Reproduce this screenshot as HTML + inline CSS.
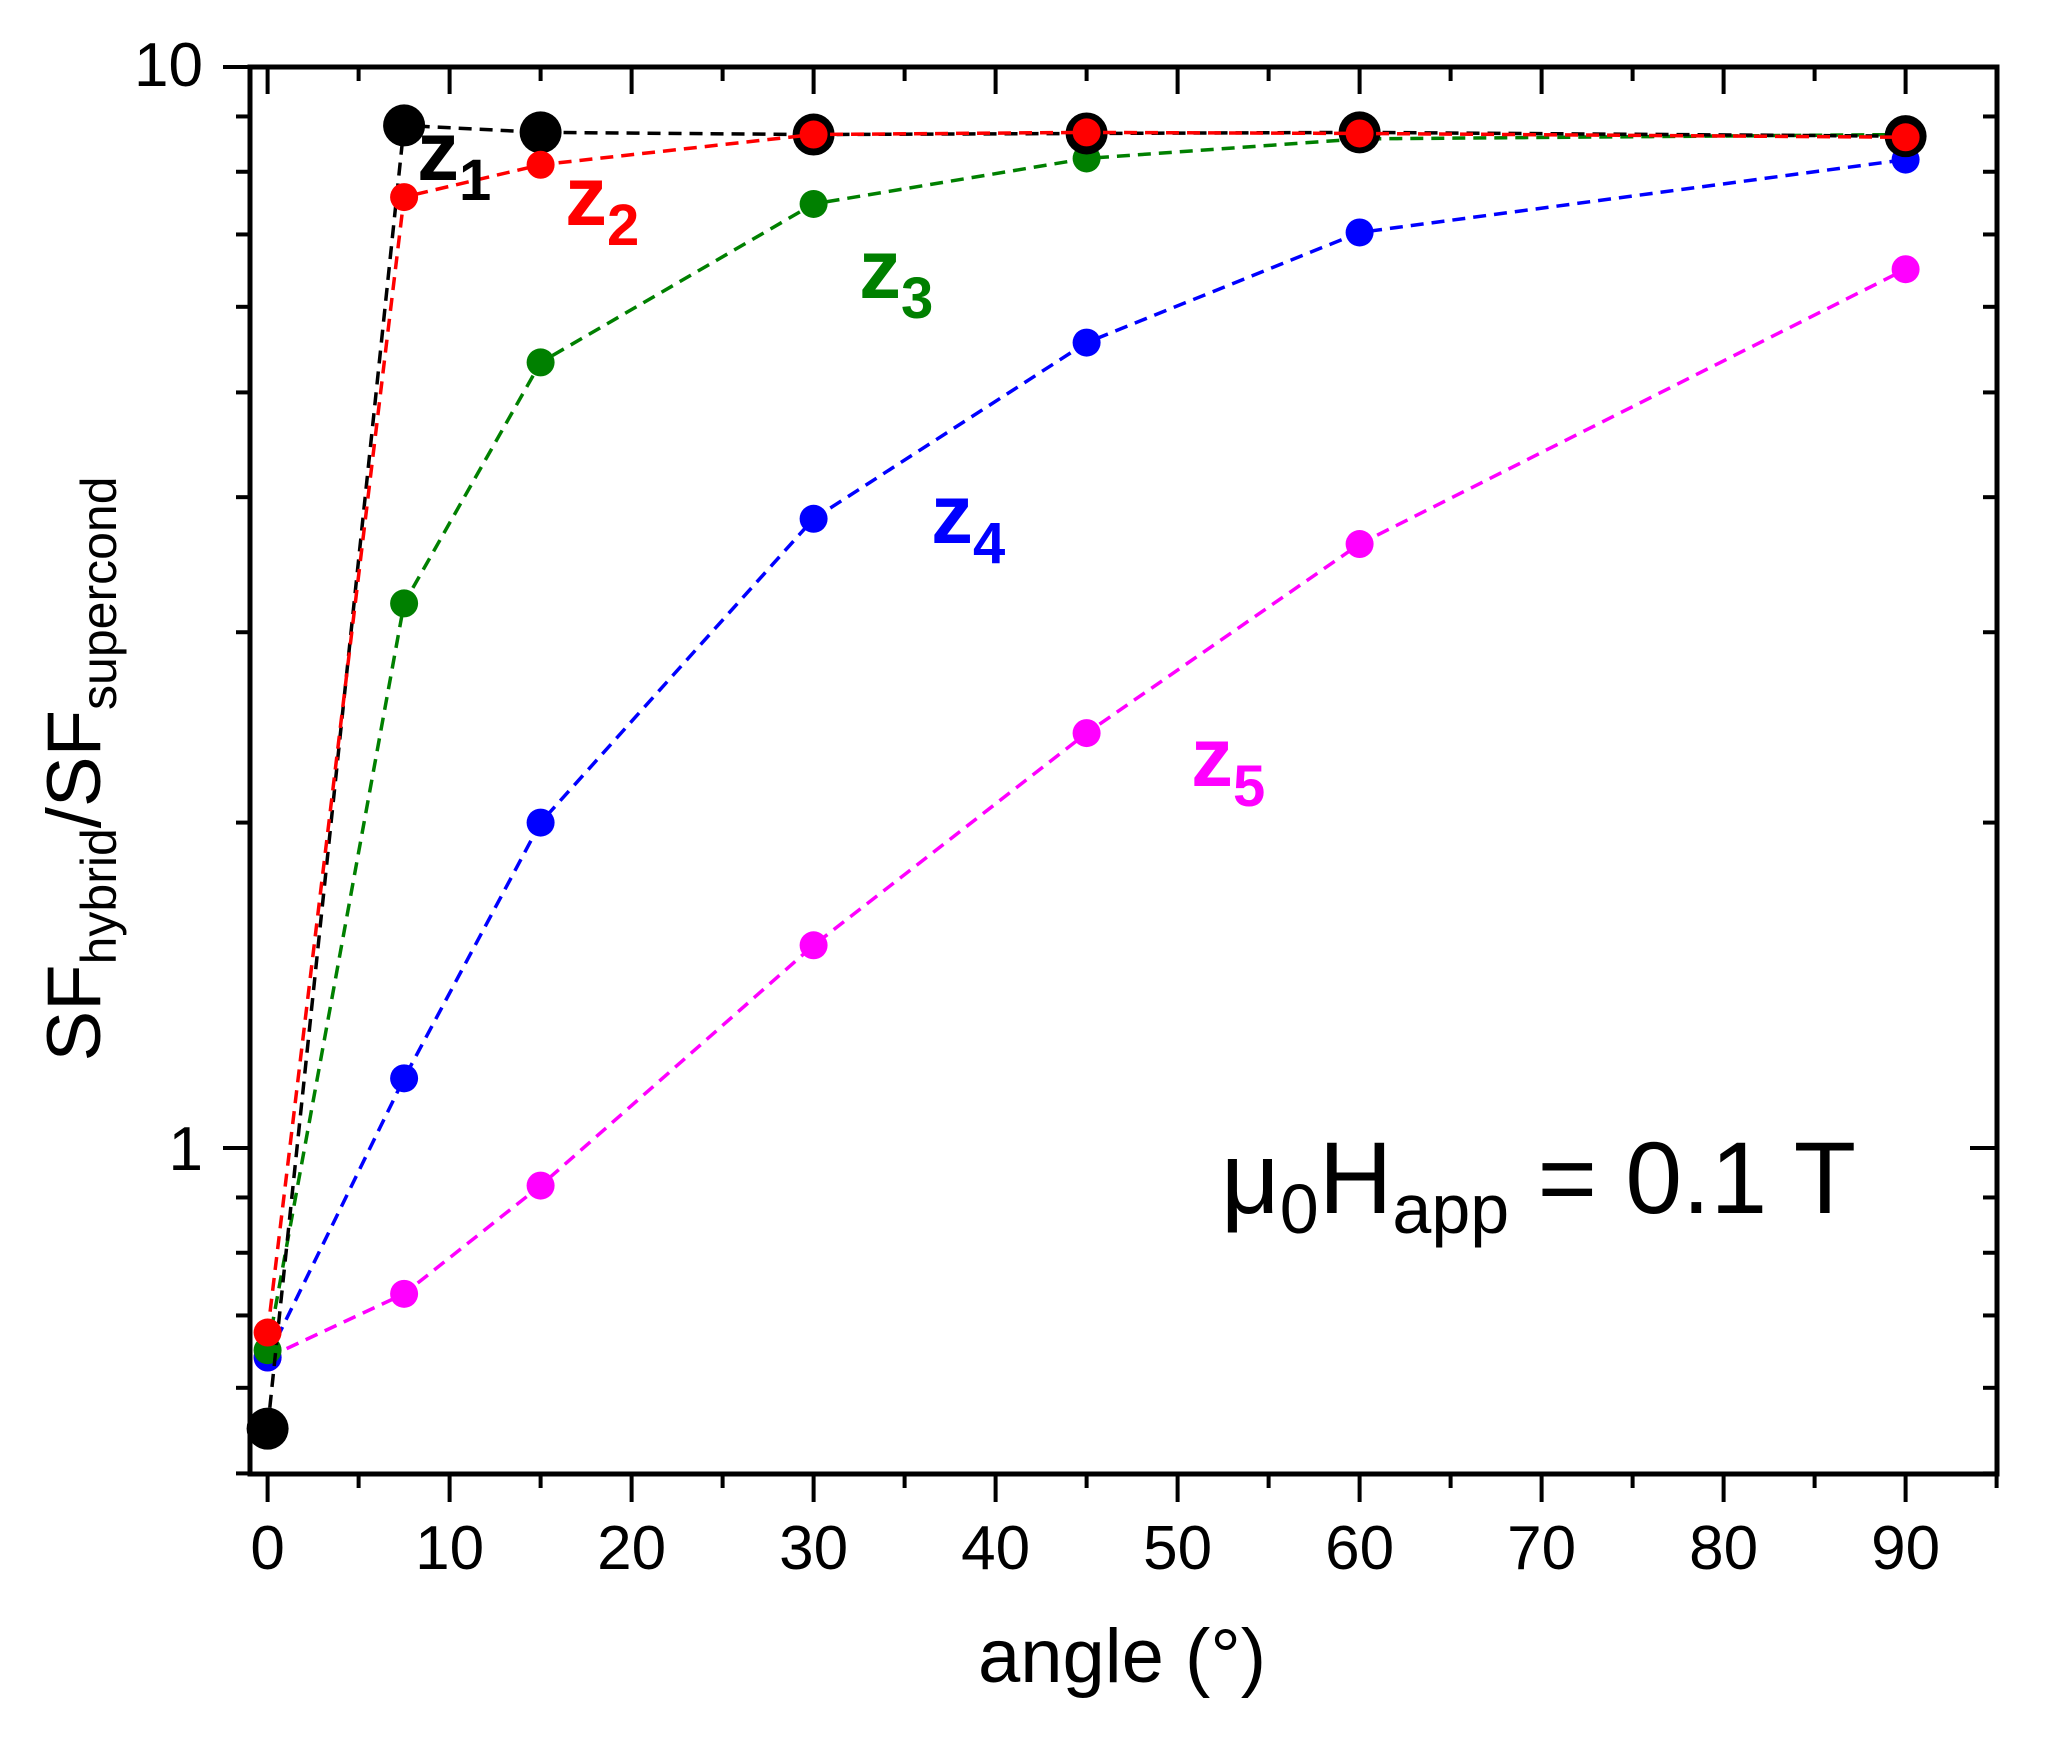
<!DOCTYPE html>
<html><head><meta charset="utf-8"><style>
html,body{margin:0;padding:0;background:#fff;}
svg{display:block;font-family:"Liberation Sans",Arial,sans-serif;}
</style></head><body>
<svg id="chart" width="2046" height="1739" viewBox="0 0 2046 1739" xmlns="http://www.w3.org/2000/svg">
<g id="axes"></g>
<g id="series"></g>
<text x="203" y="86" font-size="62" text-anchor="end">10</text>
<text x="203" y="1170" font-size="62" text-anchor="end">1</text>
<text x="1122" y="1682" font-size="76" text-anchor="middle">angle (°)</text>
<text transform="translate(100,769) rotate(-90)" font-size="76" text-anchor="middle">SF<tspan font-size="50" dy="16">hybrid</tspan><tspan dy="-16">/SF</tspan><tspan font-size="50" dy="16">supercond</tspan></text>
<text x="417" y="180" font-size="84" font-weight="bold" fill="#000">z<tspan font-size="58" dy="20">1</tspan></text>
<text x="565" y="225" font-size="84" font-weight="bold" fill="#ff0000">z<tspan font-size="58" dy="20">2</tspan></text>
<text x="859" y="298" font-size="84" font-weight="bold" fill="#008000">z<tspan font-size="58" dy="20">3</tspan></text>
<text x="931" y="543" font-size="84" font-weight="bold" fill="#0000ff">z<tspan font-size="58" dy="20">4</tspan></text>
<text x="1191" y="786" font-size="84" font-weight="bold" fill="#ff00ff">z<tspan font-size="58" dy="20">5</tspan></text>
<text x="1221" y="1213" font-size="102">μ<tspan font-size="70" dy="20">0</tspan><tspan dy="-20">H</tspan><tspan font-size="70" dy="20">app</tspan><tspan dy="-20"> = 0.1 T</tspan></text>
</svg>
<script>
const angles = [0, 7.5, 15, 30, 45, 60, 90];
const z1Values = [0.55, 8.83, 8.7, 8.66, 8.68, 8.7, 8.63];
const z2Values = [0.675, 7.58, 8.12, 8.66, 8.7, 8.68, 8.61];
const z3Values = [0.65, 3.19, 5.33, 7.47, 8.23, 8.58, 8.66];
const z4Values = [0.64, 1.16, 2.0, 3.82, 5.56, 7.03, 8.21];
const z5Values = [0.64, 0.733, 0.923, 1.54, 2.42, 3.62, 6.5];
const xTickLabels = [0, 10, 20, 30, 40, 50, 60, 70, 80, 90];

const NS = "http://www.w3.org/2000/svg";
const L = 250, R = 1997, T = 67, B = 1474;
function xs(a){ return 267.6 + a * 18.2; }
function ys(v){ return 1148 - Math.log10(v) * 1081; }
function mk(tag, attrs, parent){
  const e = document.createElementNS(NS, tag);
  for (const k in attrs) e.setAttribute(k, attrs[k]);
  parent.appendChild(e);
  return e;
}
const axes = document.getElementById('axes');
const frame = mk('rect', {x:L, y:T, width:R-L, height:B-T, fill:'none', stroke:'#000', 'stroke-width':5}, axes);


for (let a = 0; a <= 95; a += 5) {
  const major = a % 10 === 0;
  const x = xs(a);
  const tb = mk('line', {x1:x, x2:x, y1:B, y2:B + (major ? 28 : 14), stroke:'#000', 'stroke-width':4}, axes);
  
  
  const tt = mk('line', {x1:x, x2:x, y1:T, y2:T + (major ? 27 : 14), stroke:'#000', 'stroke-width':4}, axes);
  
  
}
xTickLabels.forEach(v => {
  const t = mk('text', {x:xs(v), y:1569, 'font-size':62, 'text-anchor':'middle'}, axes);
  t.textContent = v;
  
  
});
const yTickVals = [0.5,0.6,0.7,0.8,0.9,1,2,3,4,5,6,7,8,9,10];
yTickVals.forEach(v => {
  const y = ys(v);
  const major = (v === 1 || v === 10);
  const tl = mk('line', {x1:L - (major ? 27 : 14), x2:L, y1:y, y2:y, stroke:'#000', 'stroke-width':4}, axes);
  
  
  const tr = mk('line', {x1:R - (major ? 27 : 14), x2:R, y1:y, y2:y, stroke:'#000', 'stroke-width':4}, axes);
  
  
});
const seriesG = document.getElementById('series');
const seriesList = [
  {vals:z5Values, color:'#ff00ff', r:14, name:'z5'},
  {vals:z4Values, color:'#0000ff', r:14, name:'z4'},
  {vals:z3Values, color:'#008000', r:14, name:'z3'},
  {vals:z1Values, color:'#000000', r:21, name:'z1'},
  {vals:z2Values, color:'#ff0000', r:14, name:'z2'}
];
seriesList.forEach(s => {
  const pts = angles.map((a, i) => xs(a) + ',' + ys(s.vals[i])).join(' ');
  const pl = mk('polyline', {points:pts, fill:'none', stroke:s.color, 'stroke-width':3.5, 'stroke-dasharray':'13 8'}, seriesG);
  
  
  angles.forEach((a, i) => {
    const c = mk('circle', {cx:xs(a), cy:ys(s.vals[i]), r:s.r, fill:s.color}, seriesG);
    
    
  });
});
</script>
</body></html>
